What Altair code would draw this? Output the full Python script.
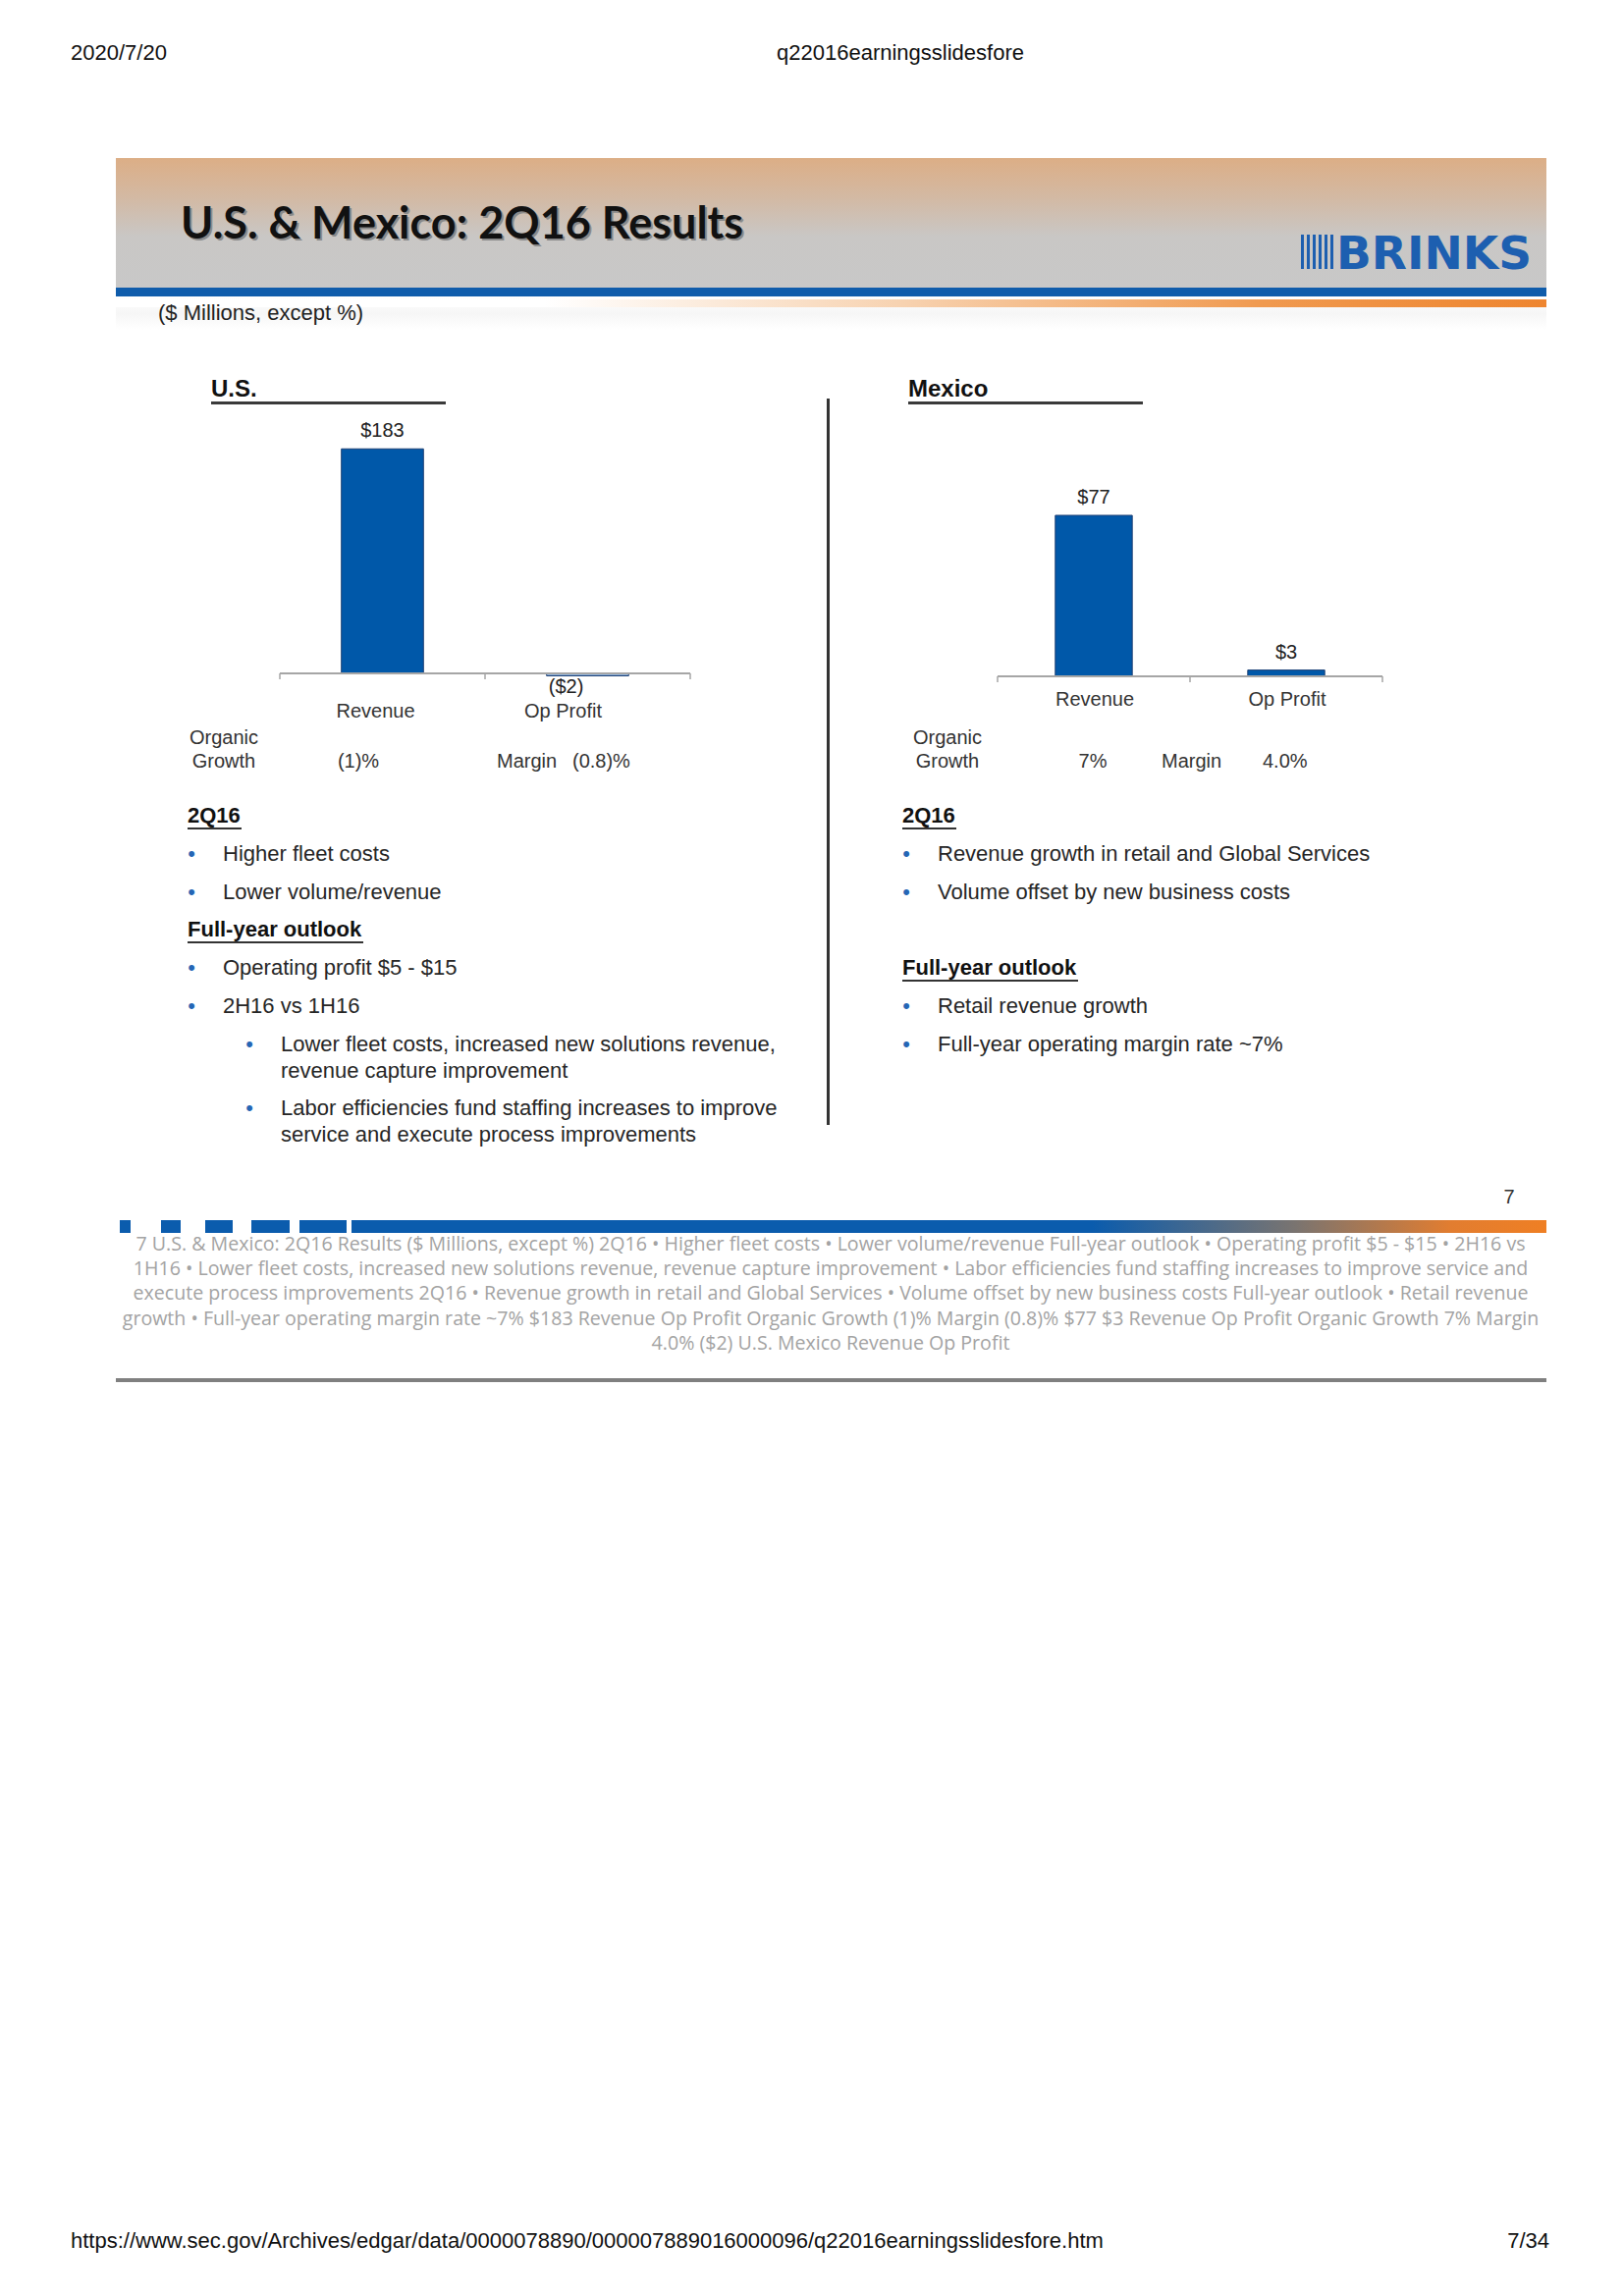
import altair as alt
import pandas as pd

W, H = 1653, 2339

# ---------------- data ----------------
categories = ["Revenue", "Op Profit"]
us_values = [183, -2]
us_labels = ["$183", "($2)"]
mx_values = [77, 3]
mx_labels = ["$77", "$3"]
growth = ["(1)%", "7%"]
margins = ["(0.8)%", "4.0%"]

us_2q16 = ["Higher fleet costs", "Lower volume/revenue"]
us_outlook = ["Operating profit $5 - $15", "2H16 vs 1H16"]
us_sub = ["Lower fleet costs, increased new solutions revenue,",
          "revenue capture improvement",
          "Labor efficiencies fund staffing increases to improve",
          "service and execute process improvements"]
mx_2q16 = ["Revenue growth in retail and Global Services",
           "Volume offset by new business costs"]
mx_outlook = ["Retail revenue growth", "Full-year operating margin rate ~7%"]

ocr_lines = [
    "7 U.S. & Mexico: 2Q16 Results ($ Millions, except %) 2Q16 \u2022 Higher fleet costs \u2022 Lower volume/revenue Full-year outlook \u2022 Operating profit $5 - $15 \u2022 2H16 vs",
    "1H16 \u2022 Lower fleet costs, increased new solutions revenue,  revenue capture improvement  \u2022 Labor efficiencies fund staffing increases to improve  service and",
    "execute process improvements 2Q16 \u2022 Revenue growth in retail and Global Services \u2022 Volume offset by new business costs  Full-year outlook \u2022 Retail revenue",
    "growth  \u2022 Full-year operating margin rate ~7% $183  Revenue Op Profit Organic  Growth (1)% Margin (0.8)% $77 $3 Revenue Op Profit Organic  Growth 7% Margin",
    "4.0% ($2) U.S. Mexico Revenue Op Profit",
]

# ---------------- helpers ----------------
ONE = alt.Data(values=[{"k": 0}])
SANS = "Liberation Sans"
TXT = "#262626"
BLUE = "#0b5cad"


def txt(s, x, y, size=22, color=TXT, font=SANS, weight="normal",
        align="left", baseline="middle"):
    return alt.Chart(ONE).mark_text(
        text=s, fontSize=size, font=font, fontWeight=weight, color=color,
        align=align, baseline=baseline
    ).encode(x=alt.value(x), y=alt.value(y))


def box(x, x2, y, y2, fill):
    return alt.Chart(ONE).mark_rect(fill=fill).encode(
        x=alt.value(x), x2=alt.value(x2), y=alt.value(y), y2=alt.value(y2))


def grad(stops, vertical=True):
    return alt.LinearGradient(
        gradient="linear",
        stops=[alt.GradientStop(color=c, offset=o) for o, c in stops],
        x1=0, y1=0, x2=0 if vertical else 1, y2=1 if vertical else 0)


layers = []

# page header / footer
layers.append(txt("2020/7/20", 72, 54, size=22, color="#111"))
layers.append(txt("q22016earningsslidesfore", 791, 54, size=22, color="#111"))
layers.append(txt("https://www.sec.gov/Archives/edgar/data/0000078890/000007889016000096/q22016earningsslidesfore.htm",
                  72, 2283, size=22, color="#111"))
layers.append(txt("7/34", 1578, 2283, size=22, color="#111", align="right"))

# slide banner
layers.append(box(118, 1575, 161, 294, grad([(0, "#dcae86"), (0.3, "#d3b9a3"),
                                             (0.6, "#c9c7c5"), (1, "#c8c8c8")])))
layers.append(box(118, 1575, 293, 302, "#0f5cab"))
layers.append(box(118, 1575, 302, 336, grad([(0, "#ffffff"), (0.5, "#f6f6f6"), (1, "#ffffff")])))
layers.append(box(118, 1575, 305, 313, grad([(0, "#ffffff"), (0.3, "#ffffff"), (0.55, "#f7d2b0"),
                                             (0.8, "#f09a50"), (1, "#ee852f")], vertical=False)))
title = "U.S. & Mexico: 2Q16 Results"
layers.append(txt(title, 186, 245, size=45, color="#8a8a8a", font="Lato", weight="bold", baseline="alphabetic"))
layers.append(txt(title, 184, 243, size=45, color="#111111", font="Lato", weight="bold", baseline="alphabetic"))
for i in range(6):
    layers.append(box(1325 + i * 6, 1328 + i * 6, 239, 274, "#1d5fb0"))
layers.append(txt("BRINKS", 1361, 274, size=47, color="#1d5fb0", font="DejaVu Sans",
                  weight="bold", baseline="alphabetic"))
layers.append(txt("($ Millions, except %)", 161, 319, size=22, color="#222"))

# panel titles, underlines, divider
layers.append(txt("U.S.", 215, 397, size=24, weight="bold", color="#111"))
layers.append(box(215, 454, 409, 412, "#3a3a3a"))
layers.append(txt("Mexico", 925, 397, size=24, weight="bold", color="#111"))
layers.append(box(925, 1164, 409, 412, "#3a3a3a"))
layers.append(box(842, 845, 406, 1146, "#333333"))

# organic growth / margin rows
for cx in (228, 965):
    layers.append(txt("Organic", cx, 752, size=20, align="center", color="#333"))
    layers.append(txt("Growth", cx, 776, size=20, align="center", color="#333"))
layers.append(txt(growth[0], 365, 776, size=20, align="center", color="#333"))
layers.append(txt("Margin", 506, 776, size=20, color="#333"))
layers.append(txt(margins[0], 583, 776, size=20, color="#333"))
layers.append(txt(growth[1], 1113, 776, size=20, align="center", color="#333"))
layers.append(txt("Margin", 1183, 776, size=20, color="#333"))
layers.append(txt(margins[1], 1286, 776, size=20, color="#333"))


# commentary text
def heading(s, x, y, w):
    return [txt(s, x, y, size=22, weight="bold", color="#111"),
            box(x, x + w, y + 12, y + 14, "#333333")]


def bullet(s, bx, tx, y):
    return [txt("\u2022", bx, y, size=22, color="#2566b5", align="center"),
            txt(s, tx, y, size=22)]


layers += heading("2Q16", 191, 831, 55)
layers += bullet(us_2q16[0], 195, 227, 870)
layers += bullet(us_2q16[1], 195, 227, 909)
layers += heading("Full-year outlook", 191, 947, 179)
layers += bullet(us_outlook[0], 195, 227, 986)
layers += bullet(us_outlook[1], 195, 227, 1025)
layers += bullet(us_sub[0], 254, 286, 1064)
layers.append(txt(us_sub[1], 286, 1091, size=22))
layers += bullet(us_sub[2], 254, 286, 1129)
layers.append(txt(us_sub[3], 286, 1156, size=22))

layers += heading("2Q16", 919, 831, 55)
layers += bullet(mx_2q16[0], 923, 955, 870)
layers += bullet(mx_2q16[1], 923, 955, 909)
layers += heading("Full-year outlook", 919, 986, 179)
layers += bullet(mx_outlook[0], 923, 955, 1025)
layers += bullet(mx_outlook[1], 923, 955, 1064)

# page number, bottom bar
layers.append(txt("7", 1537, 1220, size=20, color="#333", align="center"))
for a, b in [(122, 133), (164, 184), (209, 237), (256, 295), (305, 353)]:
    layers.append(box(a, b, 1243, 1256, BLUE))
layers.append(box(358, 1575, 1243, 1256, grad([(0, BLUE), (0.62, BLUE), (0.79, "#7a7470"),
                                              (0.92, "#e27d30"), (1, "#ef7f24")], vertical=False)))

# OCR text block
for i, line in enumerate(ocr_lines):
    layers.append(txt(line, 846, 1268 + i * 25.2, size=19.6, color="#a3a3a3",
                      font="Open Sans", align="center"))
layers.append(box(118, 1575, 1404, 1408, "#808080"))


# ---------------- bar panels ----------------
def panel(values, labels, x0, x1, y_range, dmax, cat_y, dx):
    df = pd.DataFrame({"cat": categories, "value": values, "label": labels})
    xs = alt.Scale(domain=categories, range=[x0, x1], paddingInner=0.6, paddingOuter=0.3)
    ys = alt.Scale(domain=[0, dmax], range=y_range, nice=False, zero=False)
    X = alt.X("cat:N", scale=xs, axis=None, sort=categories)
    Y = alt.Y("value:Q", scale=ys, axis=None)
    base = alt.Chart(df)
    bars = base.mark_bar(stroke="#1d3f73", strokeWidth=1).encode(
        x=X, y=Y,
        color=alt.condition("datum.value < 0", alt.value("#8db3dd"), alt.value("#0058a9")))
    out = [bars]
    zero = alt.Chart(ONE).mark_rule(color="#a6a6a6", strokeWidth=2).encode(
        y=alt.Y(datum=0, scale=ys, axis=None), x=alt.value(x0), x2=alt.value(x1))
    out.append(zero)
    zp = y_range[0]
    mid = (x0 + x1) / 2
    out += [alt.Chart(ONE).mark_rule(color="#a6a6a6", strokeWidth=1.5).encode(
        x=alt.value(tx), y=alt.value(zp), y2=alt.value(zp + 6)) for tx in (x0, mid, x1)]
    for c in categories:
        sel = base.transform_filter(alt.datum.cat == c)
        out.append(sel.transform_filter("datum.value >= 0").mark_text(
            fontSize=20, font=SANS, color="#222", dy=-18, baseline="middle", dx=dx[c][0]).encode(
            x=X, y=Y, text="label:N"))
        out.append(sel.transform_filter("datum.value < 0").mark_text(
            fontSize=20, font=SANS, color="#222", dy=11, baseline="middle", dx=dx[c][0]).encode(
            x=X, y=Y, text="label:N"))
        out.append(sel.mark_text(fontSize=20, font=SANS, color="#333", baseline="middle",
                                 dx=dx[c][1]).encode(x=X, y=alt.value(cat_y), text="cat:N"))
    return alt.layer(*out)


us_panel = panel(us_values, us_labels, 285, 703, [686, 436], 200, 725,
                 {"Revenue": (0, -7), "Op Profit": (-22, -25)})
mx_panel = panel(mx_values, mx_labels, 1016, 1408, [689, 476], 100, 713,
                 {"Revenue": (0, 1), "Op Profit": (0, 1)})

chart = alt.layer(*layers, us_panel, mx_panel).resolve_scale(
    x="independent", y="independent"
).properties(
    width=W, height=H, autosize=alt.AutoSizeParams(type="none"), padding=0,
    background="white"
).configure_view(strokeWidth=0)

chart.save("out.html", embed_options={"renderer": "svg", "actions": False})
